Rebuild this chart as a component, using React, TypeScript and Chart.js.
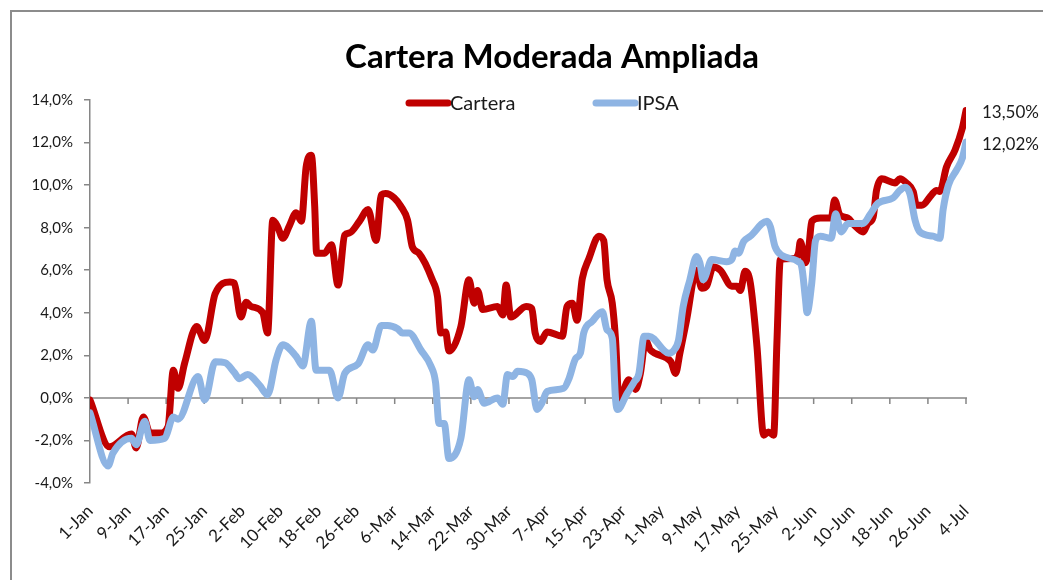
import React, { useEffect, useRef } from 'react';
import { Chart, registerables } from 'chart.js';

Chart.register(...registerables);

const chartTitle = 'Cartera Moderada Ampliada';
const seriesNames = ['Cartera', 'IPSA'];
const endLabels = ['13,50%', '12,02%'];
const tickLabels = ['1-Jan', '9-Jan', '17-Jan', '25-Jan', '2-Feb', '10-Feb', '18-Feb', '26-Feb', '6-Mar', '14-Mar', '22-Mar', '30-Mar', '7-Apr', '15-Apr', '23-Apr', '1-May', '9-May', '17-May', '25-May', '2-Jun', '10-Jun', '18-Jun', '26-Jun', '4-Jul'];

// day offsets from 1-Jan
const carteraDays = [0, 4.1, 8.7, 9.7, 11.2, 12.6, 14.7, 16.4, 17.5, 18.5, 19.9, 22.4, 24.1, 26.3, 29.4, 30.3, 31.7, 32.8, 33.8, 36.3, 37.3, 38.4, 39.4, 40.5, 41.9, 43.3, 44.4, 45.4, 46.5, 47.2, 47.6, 49.3, 50.7, 52.1, 53.5, 54.5, 56.6, 58.4, 60.1, 61.2, 62.1, 63.9, 65.3, 66.7, 67.7, 69.1, 71.9, 73.0, 73.7, 74.7, 75.4, 77.9, 79.6, 80.7, 81.4, 82.5, 85.6, 86.7, 87.4, 88.4, 91.6, 92.8, 93.5, 94.6, 96.0, 99.2, 100.2, 101.3, 102.3, 103.4, 104.8, 106.9, 107.9, 108.6, 109.7, 110.4, 111.1, 113.2, 114.6, 115.6, 116.7, 117.7, 122.0, 123.0, 123.9, 125.3, 127.4, 128.5, 129.5, 130.9, 132.4, 134.8, 135.9, 136.6, 137.6, 138.7, 140.1, 141.5, 142.5, 143.6, 144.3, 145.0, 147.8, 148.8, 149.2, 150.3, 151.0, 151.6, 153.4, 155.7, 156.4, 157.5, 159.2, 160.6, 162.4, 163.4, 164.5, 165.2, 166.3, 169.1, 170.1, 171.5, 172.9, 173.6, 174.7, 176.8, 177.8, 178.5, 179.9, 181.7, 183.2, 184];
const carteraValues = [-0.1, -2.3, -1.7, -2.35, -0.9, -1.65, -1.65, -1.35, 1.3, 0.45, 1.65, 3.35, 2.7, 4.9, 5.45, 5.4, 3.8, 4.5, 4.3, 4.0, 3.05, 8.35, 8.05, 7.5, 8.1, 8.7, 8.3, 10.85, 11.4, 9.0, 6.8, 6.8, 7.2, 5.3, 7.65, 7.75, 8.3, 8.85, 7.4, 9.55, 9.6, 9.4, 9.0, 8.35, 7.1, 6.8, 5.55, 4.75, 3.05, 3.1, 2.2, 3.35, 5.55, 4.45, 5.05, 4.15, 4.3, 3.9, 5.3, 3.8, 4.3, 4.2, 3.05, 2.65, 3.1, 2.9, 4.3, 4.45, 3.65, 5.6, 6.55, 7.6, 7.4, 5.55, 4.45, 2.7, -0.1, 0.85, 0.4, 1.15, 2.7, 2.25, 1.7, 1.15, 2.1, 3.65, 6.0, 5.15, 5.25, 6.15, 6.0, 5.25, 5.25, 5.05, 5.95, 5.4, 2.4, -1.75, -1.6, -1.75, 2.7, 6.5, 6.55, 6.8, 7.35, 6.35, 7.1, 8.3, 8.45, 8.45, 9.3, 8.6, 8.45, 8.1, 7.8, 8.2, 8.5, 9.75, 10.3, 10.1, 10.3, 10.1, 9.7, 9.05, 9.05, 9.55, 9.75, 9.7, 10.85, 11.65, 12.65, 13.5];

const ipsaDays = [0, 3.8, 4.8, 8.7, 9.7, 11.5, 12.6, 15.7, 17.5, 18.5, 22.7, 24.1, 26.3, 28.4, 30.3, 31.4, 33.1, 35.6, 37.3, 39.1, 40.5, 43.3, 44.7, 46.5, 47.5, 50.3, 52.1, 53.5, 56.3, 58.4, 59.4, 61.2, 62.5, 64.6, 65.6, 67.0, 69.5, 71.6, 72.6, 73.3, 74.4, 75.4, 77.9, 79.6, 80.7, 81.4, 82.8, 85.6, 86.7, 87.7, 88.8, 89.8, 91.9, 92.8, 93.9, 94.9, 96.0, 99.5, 100.6, 102.0, 103.0, 103.7, 105.5, 107.6, 108.6, 109.7, 110.4, 110.8, 112.8, 114.3, 115.3, 116.4, 117.4, 121.6, 122.5, 123.6, 124.6, 126.0, 127.4, 128.1, 128.8, 130.6, 133.7, 134.8, 135.5, 136.2, 137.3, 138.7, 142.2, 142.9, 143.9, 145.3, 148.8, 149.5, 150.3, 150.6, 151.6, 152.4, 153.4, 155.7, 156.6, 157.8, 159.2, 162.4, 163.8, 165.5, 168.7, 170.1, 171.2, 172.2, 173.3, 174.3, 177.1, 178.5, 179.2, 180.3, 182.0, 183.2, 184];
const ipsaValues = [-0.7, -3.2, -2.6, -1.9, -2.2, -1.1, -2.0, -1.9, -0.9, -1.0, 1.0, -0.1, 1.7, 1.65, 1.2, 0.9, 1.1, 0.6, 0.15, 1.8, 2.5, 1.95, 1.5, 3.6, 1.3, 1.3, 0.0, 1.15, 1.6, 2.5, 2.25, 3.4, 3.4, 3.25, 3.05, 3.05, 2.25, 1.5, 0.7, -1.2, -1.2, -2.85, -1.9, 0.85, 0.05, 0.4, -0.25, 0.0, -0.3, 1.1, 1.0, 1.25, 1.15, 0.85, -0.55, -0.25, 0.3, 0.45, 0.9, 1.85, 2.1, 3.05, 3.6, 4.05, 3.2, 2.8, -0.1, -0.55, 0.2, 0.75, 1.15, 2.9, 2.9, 2.1, 2.2, 2.7, 4.3, 5.55, 6.65, 6.35, 5.55, 6.5, 6.4, 6.5, 6.9, 6.8, 7.35, 7.6, 8.3, 8.05, 7.1, 6.7, 6.4, 6.15, 4.6, 4.0, 5.4, 7.4, 7.6, 7.5, 8.65, 7.8, 8.2, 8.2, 8.6, 9.15, 9.4, 9.75, 9.9, 9.6, 8.35, 7.8, 7.6, 7.5, 8.85, 10.0, 10.7, 11.25, 12.02];

const RED = '#C00000';
const BLUE = '#8EB4E3';
const FONT = 'Lato, "Open Sans", sans-serif';
const TEXT = '#1a1a1a';
const AXIS = '#868686';

export default function App() {
  const ref = useRef<HTMLCanvasElement>(null);

  useEffect(() => {
    document.body.style.margin = '0';
    const canvas = ref.current;
    if (!canvas) return;

    const overlay = {
      id: 'overlay',
      beforeDatasetsDraw(chart: any) {
        const { ctx, chartArea, scales } = chart;
        const y0 = scales.y.getPixelForValue(0);
        ctx.save();
        ctx.strokeStyle = AXIS;
        ctx.lineWidth = 1.5;
        ctx.beginPath();
        ctx.moveTo(chartArea.left, y0);
        ctx.lineTo(chartArea.right + 1, y0);
        for (let i = 0; i < tickLabels.length; i++) {
          const x = scales.x.getPixelForValue(i * 8);
          ctx.moveTo(x, y0);
          ctx.lineTo(x, y0 + 6);
        }
        ctx.stroke();
        ctx.restore();
      },
      afterDraw(chart: any) {
        const { ctx } = chart;
        ctx.save();
        // title
        ctx.fillStyle = '#000';
        ctx.font = `bold 33px ${FONT}`;
        ctx.textAlign = 'center';
        ctx.textBaseline = 'middle';
        ctx.fillText(chartTitle, 552, 57);
        // legend
        const legendItems = [
          { name: seriesNames[0], color: RED, x: 406 },
          { name: seriesNames[1], color: BLUE, x: 593 },
        ];
        ctx.font = `20px ${FONT}`;
        ctx.textAlign = 'left';
        legendItems.forEach((it) => {
          ctx.strokeStyle = it.color;
          ctx.lineWidth = 7;
          ctx.lineCap = 'round';
          ctx.beginPath();
          ctx.moveTo(it.x + 3, 103);
          ctx.lineTo(it.x + 42, 103);
          ctx.stroke();
          ctx.fillStyle = TEXT;
          ctx.fillText(it.name, it.x + 44, 104);
        });
        // end labels
        ctx.font = `17px ${FONT}`;
        ctx.fillStyle = TEXT;
        [0, 1].forEach((di) => {
          const meta = chart.getDatasetMeta(di);
          const pt = meta.data[meta.data.length - 1];
          ctx.fillText(endLabels[di], pt.x + 16, pt.y + 2);
        });
        ctx.restore();
      },
    };

    const chart = new Chart(canvas, {
      type: 'line',
      data: {
        datasets: [
          {
            label: seriesNames[0],
            data: carteraDays.map((d, i) => ({ x: d, y: carteraValues[i] })),
            borderColor: RED,
            backgroundColor: RED,
            borderWidth: 7,
            pointRadius: 0,
            cubicInterpolationMode: 'monotone',
            borderCapStyle: 'round',
            borderJoinStyle: 'round',
            order: 2,
          },
          {
            label: seriesNames[1],
            data: ipsaDays.map((d, i) => ({ x: d, y: ipsaValues[i] })),
            borderColor: BLUE,
            backgroundColor: BLUE,
            borderWidth: 7,
            pointRadius: 0,
            cubicInterpolationMode: 'monotone',
            borderCapStyle: 'round',
            borderJoinStyle: 'round',
            order: 1,
          },
        ],
      },
      options: {
        responsive: false,
        animation: false,
        layout: { padding: { left: 0, top: 100, right: 77, bottom: 0 } },
        plugins: { legend: { display: false }, tooltip: { enabled: false }, title: { display: false } },
        scales: {
          x: {
            type: 'linear',
            min: 0,
            max: 184,
            afterFit: (s: any) => { s.height = 97; },
            afterBuildTicks: (s: any) => {
              s.ticks = tickLabels.map((_, i) => ({ value: i * 8 }));
            },
            grid: { display: false, drawTicks: false },
            border: { display: false },
            ticks: {
              autoSkip: false,
              minRotation: 45,
              maxRotation: 45,
              padding: 18,
              color: TEXT,
              font: { family: FONT, size: 17 },
              callback: (_v: any, i: number) => tickLabels[i],
            },
          },
          y: {
            min: -4,
            max: 14,
            afterFit: (s: any) => { s.width = 90; },
            grid: { drawOnChartArea: false, drawTicks: true, tickLength: 6, color: AXIS, lineWidth: 1.5 },
            border: { display: true, color: AXIS, width: 1.5 },
            ticks: {
              stepSize: 2,
              padding: 11,
              color: TEXT,
              font: { family: FONT, size: 15 },
              callback: (v: any) => Number(v).toFixed(1).replace('.', ',') + '%',
            },
          },
        },
      },
      plugins: [overlay],
    } as any);

    return () => chart.destroy();
  }, []);

  return (
    <div style={{ position: 'relative', width: 1043, height: 580, overflow: 'hidden', background: '#fff' }}>
      <div style={{ position: 'absolute', left: 10, top: 10, width: 1100, height: 600, borderLeft: '2px solid #8c8c8c', borderTop: '2px solid #8c8c8c' }} />
      <canvas ref={ref} width={1043} height={580} style={{ position: 'absolute', left: 0, top: 0 }} />
    </div>
  );
}
